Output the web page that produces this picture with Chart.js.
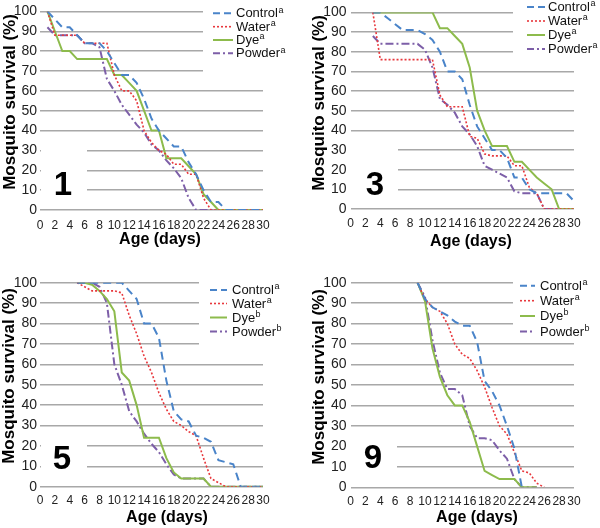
<!DOCTYPE html>
<html>
<head>
<meta charset="utf-8">
<script src="https://cdn.jsdelivr.net/npm/chart.js@4.4.1/dist/chart.umd.min.js"></script>
<style>
html,body{margin:0;padding:0;background:#fff;}
#wrap{position:relative;width:600px;height:528px;overflow:hidden;background:#fff;}
canvas{position:absolute;}
</style>
</head>
<body>
<div id="wrap">
  <canvas id="c1" width="300" height="264" style="left:0;top:0"></canvas>
  <canvas id="c3" width="300" height="264" style="left:300px;top:0"></canvas>
  <canvas id="c5" width="300" height="264" style="left:0;top:264px"></canvas>
  <canvas id="c9" width="300" height="264" style="left:300px;top:264px"></canvas>
</div>
<script>
// ---------- DATA ----------
const days = [0,1,2,3,4,5,6,7,8,9,10,11,12,13,14,15,16,17,18,19,20,21,22,23,24,25,26,27,28,29,30];
const seriesNames = ['Control','Water','Dye','Powder'];
const yTitle = 'Mosquito survival (%)';
const xTitle = 'Age (days)';

// Panel 1
const p1Control = [null,100,96,92,92,88,84,84,84,80,74,68,68,64,56,46,40,36,32,32,24,18,10,4,4,0,0,0,0,0,0];
const p1Water   = [null,100,88,88,88,88,84,84,84,84,68,60,60,55,40,34,30,28,23,23,18,18,6,0,0,0,0,0,0,0,0];
const p1Dye     = [null,100,90,80,80,76,76,76,76,76,68,68,64,60,50,40,40,26,26,26,22,18,8,4,0,0,0,0,0,0,0];
const p1Powder  = [null,92,88,88,88,88,84,84,82,66,60,53,48,43,39,33,30,25,21,16,6,0,0,0,0,0,0,0,0,0,0];
const p1Sup = ['a','a','a','a'];

// Panel 3
const p3Control = [null,null,null,100,100,97,94,91,91,91,89,86,80,70,70,66,53,42,36,30,30,26,16,16,10,8,8,8,8,8,4];
const p3Water   = [null,null,null,100,76,76,76,76,76,76,76,76,58,52,52,52,37,36,28,27,27,27,22,22,11,8,0,0,0,0,0];
const p3Dye     = [null,null,null,100,100,100,100,100,100,100,100,100,92,92,88,84,72,50,40,32,32,32,24,24,20,16,13,10,0,0,0];
const p3Powder  = [null,null,null,88,84,84,84,84,84,84,81,72,56,53,49,42,38,32,22,20,18,16,9,8,8,8,0,0,0,0,0];
const p3Sup = ['a','a','a','a'];

// Panel 5
const p5Control = [null,null,null,null,null,100,100,100,100,100,100,100,96,92,80,80,73,52,37,33,32,25,24,22,13,12,11,0,0,0,0];
const p5Water   = [null,null,null,null,null,100,98,96,96,96,96,95,84,75,64,56,46,38,32,30,27,25,14,4,2,0,0,0,0,0,0];
const p5Dye     = [null,null,null,null,null,100,100,99,96,92,86,56,52,40,24,24,24,14,7,4,4,4,4,0,0,0,0,0,0,0,0];
const p5Powder  = [null,null,null,null,null,100,100,100,98,90,60,50,37,32,26,21,17,11,6,4,4,4,4,0,0,0,0,0,0,0,0];
const p5Sup = ['a','a','b','b'];

// Panel 9
const p9Control = [null,null,null,null,null,null,null,null,null,100,92,88,86,84,81,79,79,71,52,47,40,30,19,0,null,null,null,null,null,null,null];
const p9Water   = [null,null,null,null,null,null,null,null,null,100,92,88,86,80,70,65,63,57,49,39,30,26,17,8,7,2,0,null,null,null,null];
const p9Dye     = [null,null,null,null,null,null,null,null,null,100,91,68,54,45,40,40,32,20,8,6,4,4,4,0,0,0,null,null,null,null,null];
const p9Powder  = [null,null,null,null,null,null,null,null,null,100,93,72,56,48,48,45,30,24,24,23,18,14,4,0,0,0,null,null,null,null,null];
const p9Sup = ['a','a','b','b'];

// ---------- STYLE ----------
const FONT = '"Liberation Sans", Arial, Helvetica, sans-serif';
Chart.defaults.font.family = FONT;
const colors = ['#4a84c9','#e8383d','#8dbb4c','#7d5fa8'];
const widths = [2, 1.6, 2, 2];
const dashes = [[8,5],[2,2],[],[8,3,2,3]];
const legendDashes = [[7,4],[2,2],[],[7,3,2,3]];

function decorPlugin(cfg) {
  return {
    id: 'decor',
    beforeDatasetsDraw(chart) {
      const ctx = chart.ctx;
      ctx.save();
      ctx.fillStyle = '#fff';
      cfg.masks.forEach(r => ctx.fillRect(r[0], r[1], r[2], r[3]));
      // panel number
      ctx.fillStyle = '#000';
      ctx.font = 'bold 33px ' + FONT;
      ctx.textAlign = 'center';
      ctx.textBaseline = 'middle';
      ctx.fillText(cfg.num, cfg.numX, cfg.numY);
      // axis titles
      ctx.font = 'bold 16px ' + FONT;
      ctx.fillText(xTitle, cfg.xt[0], cfg.xt[1]);
      ctx.save();
      ctx.translate(cfg.yt[0], cfg.yt[1]);
      ctx.rotate(-Math.PI / 2);
      ctx.font = 'bold 17px ' + FONT;
      ctx.fillText(yTitle, 0, 0);
      ctx.restore();
      // legend
      ctx.textAlign = 'left';
      seriesNames.forEach((name, i) => {
        const y = cfg.rows[i];
        ctx.beginPath();
        ctx.setLineDash(legendDashes[i]);
        ctx.lineWidth = widths[i];
        ctx.strokeStyle = colors[i];
        ctx.moveTo(cfg.lx0, y);
        ctx.lineTo(cfg.lx1, y);
        ctx.stroke();
        ctx.setLineDash([]);
        ctx.fillStyle = '#111';
        ctx.font = '13px ' + FONT;
        ctx.textBaseline = 'middle';
        ctx.fillText(name, cfg.tx, y + 0.5);
        const w = ctx.measureText(name).width;
        ctx.font = '9px ' + FONT;
        ctx.fillText(cfg.sup[i], cfg.tx + w + 0.5, y - 3);
      });
      ctx.restore();
    }
  };
}

function makeChart(id, series, cfg) {
  const datasets = series.map((vals, i) => ({
    label: seriesNames[i] + cfg.sup[i],
    data: days.map((d, j) => ({x: d, y: vals[j]})).filter(p => p.y !== null),
    borderColor: colors[i],
    backgroundColor: colors[i],
    borderWidth: widths[i],
    borderDash: dashes[i],
    pointRadius: 0,
    fill: false,
    tension: 0
  }));
  return new Chart(document.getElementById(id), {
    type: 'line',
    data: { datasets },
    options: {
      responsive: false,
      animation: false,
      events: [],
      layout: { padding: { top: cfg.top, right: cfg.right, left: 0, bottom: 0 } },
      plugins: { legend: { display: false }, tooltip: { enabled: false } },
      scales: {
        x: {
          type: 'linear', min: 0, max: 30,
          ticks: { stepSize: 2, autoSkip: false, maxRotation: 0, color: '#222', font: { size: 12 }, padding: cfg.xTickPad },
          grid: { display: false },
          border: { display: false },
          title: { display: false, text: xTitle },
          afterFit: s => { s.height = cfg.xH; }
        },
        y: {
          min: 0, max: 100,
          ticks: { stepSize: 10, autoSkip: false, color: '#222', font: { size: 14 }, padding: cfg.yTickPad },
          grid: { color: '#a8a8a8', lineWidth: 1.5, drawTicks: false },
          border: { display: false },
          title: { display: false, text: yTitle },
          afterFit: s => { s.width = cfg.yW; }
        }
      }
    },
    plugins: [decorPlugin(cfg)]
  });
}

makeChart('c1', [p1Control, p1Water, p1Dye, p1Powder], {
  sup: p1Sup, num: '1', numX: 63, numY: 186,
  top: 6, right: 37, xH: 54, yW: 40,
  xTickPad: 0, yTickPad: 3,
  xt: [160, 240], yt: [10, 102],
  masks: [[203, 0, 97, 77], [41, 150, 46, 56]],
  lx0: 213, lx1: 233, tx: 236, rows: [13.3, 26.7, 40, 53.3]
});
makeChart('c3', [p3Control, p3Water, p3Dye, p3Powder], {
  sup: p3Sup, num: '3', numX: 75, numY: 186,
  top: 4, right: 26, xH: 55, yW: 50.5,
  xTickPad: -1, yTickPad: 4,
  xt: [171, 242], yt: [19, 103],
  masks: [[213, 0, 87, 56], [51, 145, 47, 60]],
  lx0: 227, lx1: 245, tx: 248, rows: [7, 21, 35, 49]
});
makeChart('c5', [p5Control, p5Water, p5Dye, p5Powder], {
  sup: p5Sup, num: '5', numX: 62, numY: 196,
  top: 18.7, right: 37, xH: 41.3, yW: 40,
  xTickPad: -1, yTickPad: 3,
  xt: [167, 254], yt: [9, 112],
  masks: [[199, 0, 101, 90], [41, 165, 46, 53]],
  lx0: 210, lx1: 227, tx: 232, rows: [26, 39.5, 53.5, 67.5]
});
makeChart('c9', [p9Control, p9Water, p9Dye, p9Powder], {
  sup: p9Sup, num: '9', numX: 73, numY: 195,
  top: 18.7, right: 26, xH: 40.7, yW: 50.5,
  xTickPad: -1, yTickPad: 4,
  xt: [177, 254], yt: [19, 113],
  masks: [[213, 0, 87, 70], [51, 165, 46, 53]],
  lx0: 220, lx1: 235, tx: 240, rows: [21.7, 36.7, 52, 67.5]
});
</script>
</body>
</html>
